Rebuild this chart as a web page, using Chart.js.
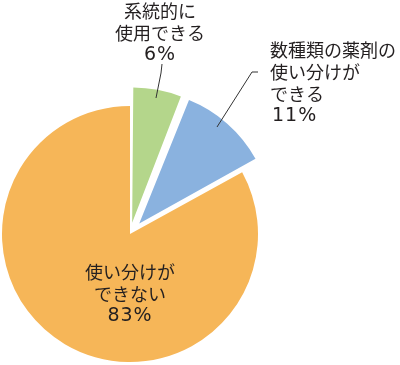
<!DOCTYPE html>
<html lang="ja">
<head>
<meta charset="utf-8">
<script src="https://cdn.jsdelivr.net/npm/chart.js@4/dist/chart.umd.min.js"></script>
<style>
  html, body { margin: 0; padding: 0; background: #fff; }
  #wrap { width: 400px; height: 365px; }
</style>
</head>
<body>
<div id="wrap"><canvas id="pieChart" width="400" height="365"></canvas></div>
<script>
// data
const categories = [
    ['系統的に', '使用できる'],
    ['数種類の薬剤の', '使い分けが', 'できる'],
    ['使い分けが', 'できない']
];
const values = [6, 11, 83];
const colors = ['#b4d68b', '#8ab2df', '#f6b658'];

// label placement relative to pie center (layout only)
const labelLayout = [
    { dx: 30, dy: -223, align: 'center', lead: [[32, -170], [31, -161], [26, -136]] },
    { dx: 140, dy: -184, align: 'left', lead: [[128, -162], [122, -162], [87, -107]] },
    { dx: 0, dy: 38, align: 'center', lead: null }
];

const pieLabels = {
    id: 'pieLabels',
    afterDatasetsDraw(chart) {
        const ctx = chart.ctx;
        const arcs = chart.getDatasetMeta(0).data;
        const cx = arcs[0].x, cy = arcs[0].y;
        ctx.save();
        ctx.fillStyle = '#231f20';
        ctx.strokeStyle = '#333';
        ctx.lineWidth = 1;
        ctx.font = '18px "Noto Sans CJK JP", sans-serif';
        ctx.textBaseline = 'middle';
        labelLayout.forEach(function(l, i) {
            const lines = categories[i];
            ctx.textAlign = l.align;
            lines.forEach(function(t, j) {
                ctx.fillText(t, cx + l.dx, cy + l.dy + j * 22);
            });
            // percentage line, digits a bit wider like the original
            const pct = values[i] + '%';
            const py = cy + l.dy + lines.length * 22;
            ctx.save();
            ctx.font = '19px "DejaVu Sans", sans-serif';
            ctx.letterSpacing = '1px';
            ctx.fillText(pct, cx + l.dx + (l.align === 'left' ? 2 : 0), py);
            ctx.restore();
            if (l.lead) {
                ctx.beginPath();
                l.lead.forEach(function(p, k) {
                    if (k === 0) ctx.moveTo(cx + p[0], cy + p[1]);
                    else ctx.lineTo(cx + p[0], cy + p[1]);
                });
                ctx.stroke();
            }
        });
        ctx.restore();
    }
};

const pieCtx = document.getElementById('pieChart').getContext('2d');
const pieChart = new Chart(pieCtx, {
    type: 'pie',
    data: {
        labels: categories.map(function(c) { return c.join(''); }),
        datasets: [{
            data: values,
            backgroundColor: colors,
            borderWidth: 0,
            offset: [46, 56, 0],
            clip: false
        }]
    },
    options: {
        responsive: false,
        animation: false,
        radius: 128,
        layout: {
            padding: { left: 0, right: 140, top: 103, bottom: 0 }
        },
        plugins: {
            legend: { display: false },
            tooltip: { enabled: false }
        }
    },
    plugins: [pieLabels]
});
</script>
</body>
</html>
